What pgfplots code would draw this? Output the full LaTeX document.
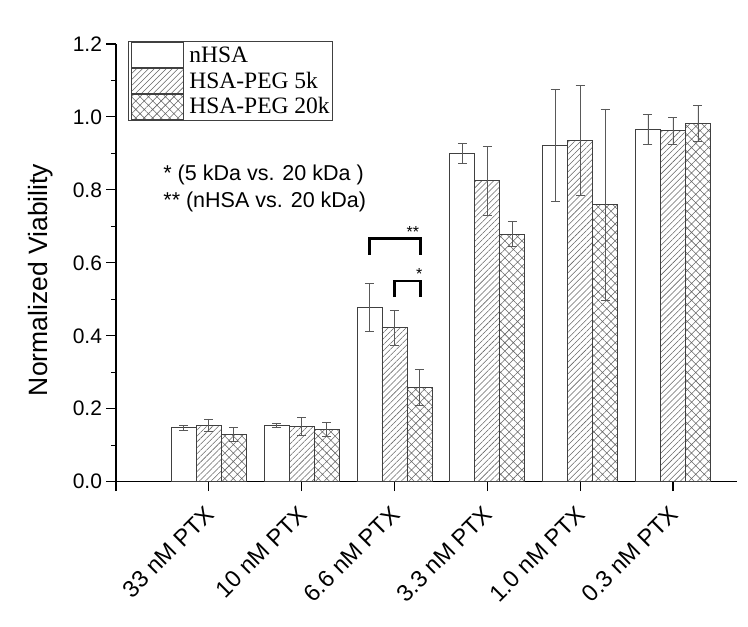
\documentclass[border=0pt]{standalone}
\usepackage{pgfplots}
\pgfplotsset{compat=1.18}
\usepackage{fontspec}
\setmainfont{Liberation Sans}
\newfontfamily\legfont{Liberation Serif}
\usetikzlibrary{patterns.meta}

\pgfplotstableread{
x  y      e
0  0.148  0.006
1  0.155  0.006
2  0.477  0.066
3  0.900  0.028
4  0.922  0.154
5  0.966  0.041
}\nhsa
\pgfplotstableread{
x  y      e
0  0.155  0.017
1  0.152  0.025
2  0.422  0.048
3  0.825  0.094
4  0.936  0.151
5  0.962  0.037
}\pegfive
\pgfplotstableread{
x  y      e
0  0.129  0.019
1  0.144  0.019
2  0.259  0.049
3  0.679  0.034
4  0.760  0.262
5  0.982  0.049
}\pegtwenty

\pgfplotsset{mylegend/.style={legend image code/.code={\draw[##1,line width=0.7pt] (0pt,-12.5pt) rectangle (52pt,12.5pt);}}}

\begin{document}
\begin{tikzpicture}
\begin{axis}[
  name=ax,
  scale only axis,
  width=621pt, height=437.7pt,
  xmin=-1, xmax=5.69, ymin=0, ymax=1.2,
  axis lines*=left,
  axis line style={line width=1.2pt, black},
  every tick/.style={line width=1.1pt, black},
  tick align=outside,
  major tick length=9.5pt,
  minor tick length=5pt,
  ytick={0,0.2,...,1.2},
  minor y tick num=1,
  xtick={-1,0,1,2,3,4,5},
  xticklabels={{},33 nM PTX,10 nM PTX,6.6 nM PTX,3.3 nM PTX,1.0 nM PTX,0.3 nM PTX},
  /pgf/number format/assume math mode=true,
  yticklabel style={/pgf/number format/fixed, /pgf/number format/fixed zerofill, /pgf/number format/precision=1, font=\fontsize{21}{24}\selectfont, xshift=-1pt},
  xticklabel style={xshift=3.5pt, yshift=-16.5pt, rotate=45, anchor=east, font=\fontsize{23.5}{28}\selectfont},
  ylabel={Normalized Viability},
  ylabel style={at={(axis description cs:-0.121,0.461)}, anchor=center, font=\fontsize{26.5}{30}\selectfont},
  ybar=0pt,
  bar width=25pt,
  every axis plot post/.append style={mylegend},
  legend style={at={(axis description cs:0.0198,1.007)}, anchor=north west, draw=black!75, line width=0.8pt,
    font=\legfont\fontsize{23.5}{26}\selectfont, inner xsep=2pt, inner ysep=1pt, row sep=0pt, column sep=5pt,
    nodes={inner sep=1pt}},
  legend cell align=left,
  error bars/y dir=both,
  error bars/y explicit,
  error bars/error bar style={line width=0.7pt, black!65},
  error bars/error mark options={rotate=90, mark size=4.5pt, line width=0.7pt, black!65},
  clip=false,
]
\addplot[draw=black!75, line width=0.7pt, fill=white]
  table[x=x, y=y, y error=e] {\nhsa};
\addlegendentry{nHSA}
\addplot[draw=black!75, line width=0.7pt, fill=white, pattern={Lines[angle=45,distance=4.2pt,line width=0.55pt]}, pattern color=black!60]
  table[x=x, y=y, y error=e] {\pegfive};
\addlegendentry{HSA-PEG 5k}
\addplot[draw=black!75, line width=0.7pt, fill=white, pattern={Hatch[angle=45,distance=6pt,line width=0.55pt]}, pattern color=black!60]
  table[x=x, y=y, y error=e] {\pegtwenty};
\addlegendentry{HSA-PEG 20k\hspace{4pt}}

\draw[line width=2.5pt, black] (axis cs:1.73,0.622) -- (axis cs:1.73,0.667) -- (axis cs:2.283,0.667) -- (axis cs:2.283,0.622);
\draw[line width=2.5pt, black] (axis cs:2.0,0.506) -- (axis cs:2.0,0.550) -- (axis cs:2.283,0.550) -- (axis cs:2.283,0.506);
\node[anchor=base, font=\fontsize{16}{18}\selectfont, yshift=-9pt] at (axis cs:2.197,0.695) {**};
\node[anchor=base, font=\fontsize{16}{18}\selectfont, yshift=-9pt] at (axis cs:2.268,0.578) {*};
\node[anchor=west, font=\fontsize{21.5}{26}\selectfont, inner sep=0pt] at (axis description cs:0.076,0.700) {* (5 kDa vs. 20 kDa )};
\node[anchor=west, font=\fontsize{21.5}{26}\selectfont, inner sep=0pt] at (axis description cs:0.076,0.639) {** (nHSA vs. 20 kDa)};
\end{axis}
\pgfresetboundingbox
\path[use as bounding box] ([shift={(-116pt,-145.3pt)}]ax.south west) rectangle ([shift={(11pt,44pt)}]ax.north east);
\end{tikzpicture}
\end{document}
